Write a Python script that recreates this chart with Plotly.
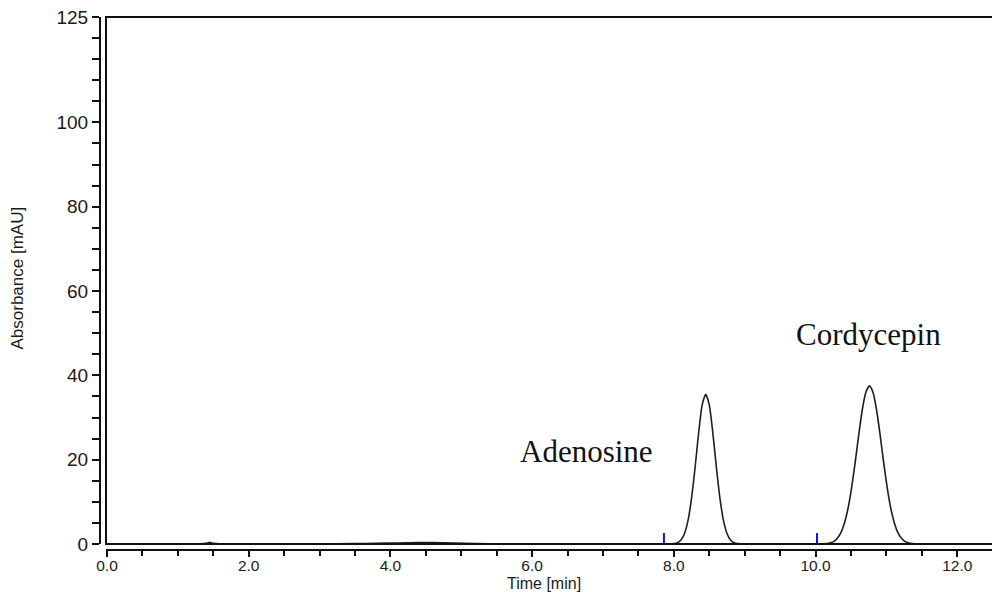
import plotly.graph_objects as go

# ---- data ----
time_min = [0.0, 0.5, 1.0, 1.3, 1.4, 1.45, 1.5, 1.6, 2.0, 2.5, 3.0, 3.5, 3.8, 4.1, 4.4,
            4.6, 4.9, 5.2, 5.6, 6.0, 7.0, 7.8, 7.95,
            8.00, 8.05, 8.10, 8.15, 8.20, 8.25, 8.30, 8.35, 8.40, 8.45, 8.50, 8.55, 8.60,
            8.65, 8.70, 8.75, 8.80, 8.85, 8.90, 8.95, 9.2, 9.6, 10.0, 10.06,
            10.11, 10.16, 10.21, 10.26, 10.31, 10.36, 10.41, 10.46, 10.51, 10.56, 10.61,
            10.66, 10.71, 10.76, 10.81, 10.86, 10.91, 10.96, 11.01, 11.06, 11.11, 11.16,
            11.21, 11.26, 11.31, 11.36, 11.41, 11.5, 12.0, 12.5]
absorbance = [0.05, 0.05, 0.05, 0.05, 0.15, 0.4, 0.15, 0.05, 0.05, 0.05, 0.05, 0.08, 0.15, 0.25, 0.35,
              0.35, 0.2, 0.1, 0.05, 0.05, 0.05, 0.05, 0.05,
              0.1, 0.31, 0.95, 2.5, 5.6, 10.9, 18.2, 26.4, 33.0, 35.5, 33.0, 26.4, 18.2,
              10.9, 5.6, 2.5, 0.95, 0.31, 0.1, 0.06, 0.05, 0.05, 0.05, 0.05,
              0.05, 0.1, 0.27, 0.63, 1.4, 2.75, 5.1, 8.6, 13.5, 19.5, 26.0,
              31.9, 36.0, 37.5, 36.0, 31.9, 26.0, 19.5, 13.5, 8.6, 5.1, 2.75,
              1.4, 0.63, 0.27, 0.1, 0.05, 0.05, 0.05, 0.05]

# integration baselines (red) and peak start markers (blue)
baseline_start = [7.86, 10.02]
baseline_end = [9.12, 11.46]
marker_times = [7.86, 10.02]
marker_height = 2.6

peak_names = ["Adenosine", "Cordycepin"]
label_x = [6.77, 10.75]
label_y = [22.0, 49.6]

y_tickvals = [0, 20, 40, 60, 80, 100, 125]
x_tickvals = [0, 2, 4, 6, 8, 10, 12]
x_ticktext = ["0.0", "2.0", "4.0", "6.0", "8.0", "10.0", "12.0"]

fig = go.Figure()
fig.add_trace(go.Scatter(x=time_min, y=absorbance, mode="lines",
                         line=dict(color="#1e1e1e", width=1.6, shape="spline", smoothing=0.6),
                         hoverinfo="skip", showlegend=False))
for s, e in zip(baseline_start, baseline_end):
    fig.add_trace(go.Scatter(x=[s, e], y=[0.05, 0.05], mode="lines",
                             line=dict(color="#e0201a", width=1.3),
                             hoverinfo="skip", showlegend=False))
for t in marker_times:
    fig.add_trace(go.Scatter(x=[t, t], y=[0, marker_height], mode="lines",
                             line=dict(color="#1010ff", width=2),
                             hoverinfo="skip", showlegend=False))

sans = "Liberation Sans, Arial, sans-serif"

fig.update_layout(
    width=992, height=592,
    margin=dict(l=98, r=0, t=17, b=40, autoexpand=False),
    paper_bgcolor="white", plot_bgcolor="white",
    xaxis=dict(domain=[8 / 894, 1], anchor="free", position=2 / 535, automargin=False,
               range=[-0.014, 12.49], showgrid=False, zeroline=False,
               showline=True, linecolor="#111", linewidth=2,
               tickmode="array", tickvals=x_tickvals, ticktext=x_ticktext,
               ticks="outside", ticklen=6, tickwidth=2, tickcolor="#111",
               ticklabelstandoff=-5,
               tickfont=dict(family=sans, size=15.5, color="#1a1a1a"),
               minor=dict(dtick=0.5, tick0=0, ticks="outside", ticklen=5, tickwidth=1.5,
                          tickcolor="#111", showgrid=False)),
    yaxis=dict(domain=[8 / 535, 1], anchor="free", position=2 / 894, automargin=False,
               range=[0, 125], showgrid=False, zeroline=False,
               showline=True, linecolor="#111", linewidth=2,
               tickmode="array", tickvals=y_tickvals,
               ticks="outside", ticklen=7, tickwidth=2, tickcolor="#111",
               tickfont=dict(family=sans, size=19, color="#1a1a1a"),
               minor=dict(dtick=5, tick0=0, ticks="outside", ticklen=7, tickwidth=1.5,
                          tickcolor="#111", showgrid=False)),
    shapes=[dict(type="rect", xref="x domain", yref="y domain", x0=0, x1=1.02, y0=0, y1=1,
                 line=dict(color="#111", width=2), layer="above")],
)

annotations = [
    dict(text="Time [min]", xref="paper", yref="paper", x=0.499, y=-0.059,
         xanchor="center", yanchor="middle", showarrow=False,
         font=dict(family=sans, size=16, color="#1a1a1a")),
    dict(text="Absorbance [mAU]", xref="paper", yref="paper", x=-0.0895, y=0.513,
         xanchor="center", yanchor="middle", showarrow=False, textangle=-90,
         font=dict(family=sans, size=17, color="#1a1a1a")),
]
for name, lx, ly in zip(peak_names, label_x, label_y):
    annotations.append(dict(text=name, x=lx, y=ly, xref="x", yref="y", showarrow=False,
                            xanchor="center", yanchor="middle",
                            font=dict(family="Liberation Serif, Times New Roman, serif",
                                      size=31, color="#111")))
fig.update_layout(annotations=annotations)

fig.write_html("out.html", config={"displayModeBar": False},
               post_script="document.body.style.margin='0';document.body.style.overflow='hidden';")
